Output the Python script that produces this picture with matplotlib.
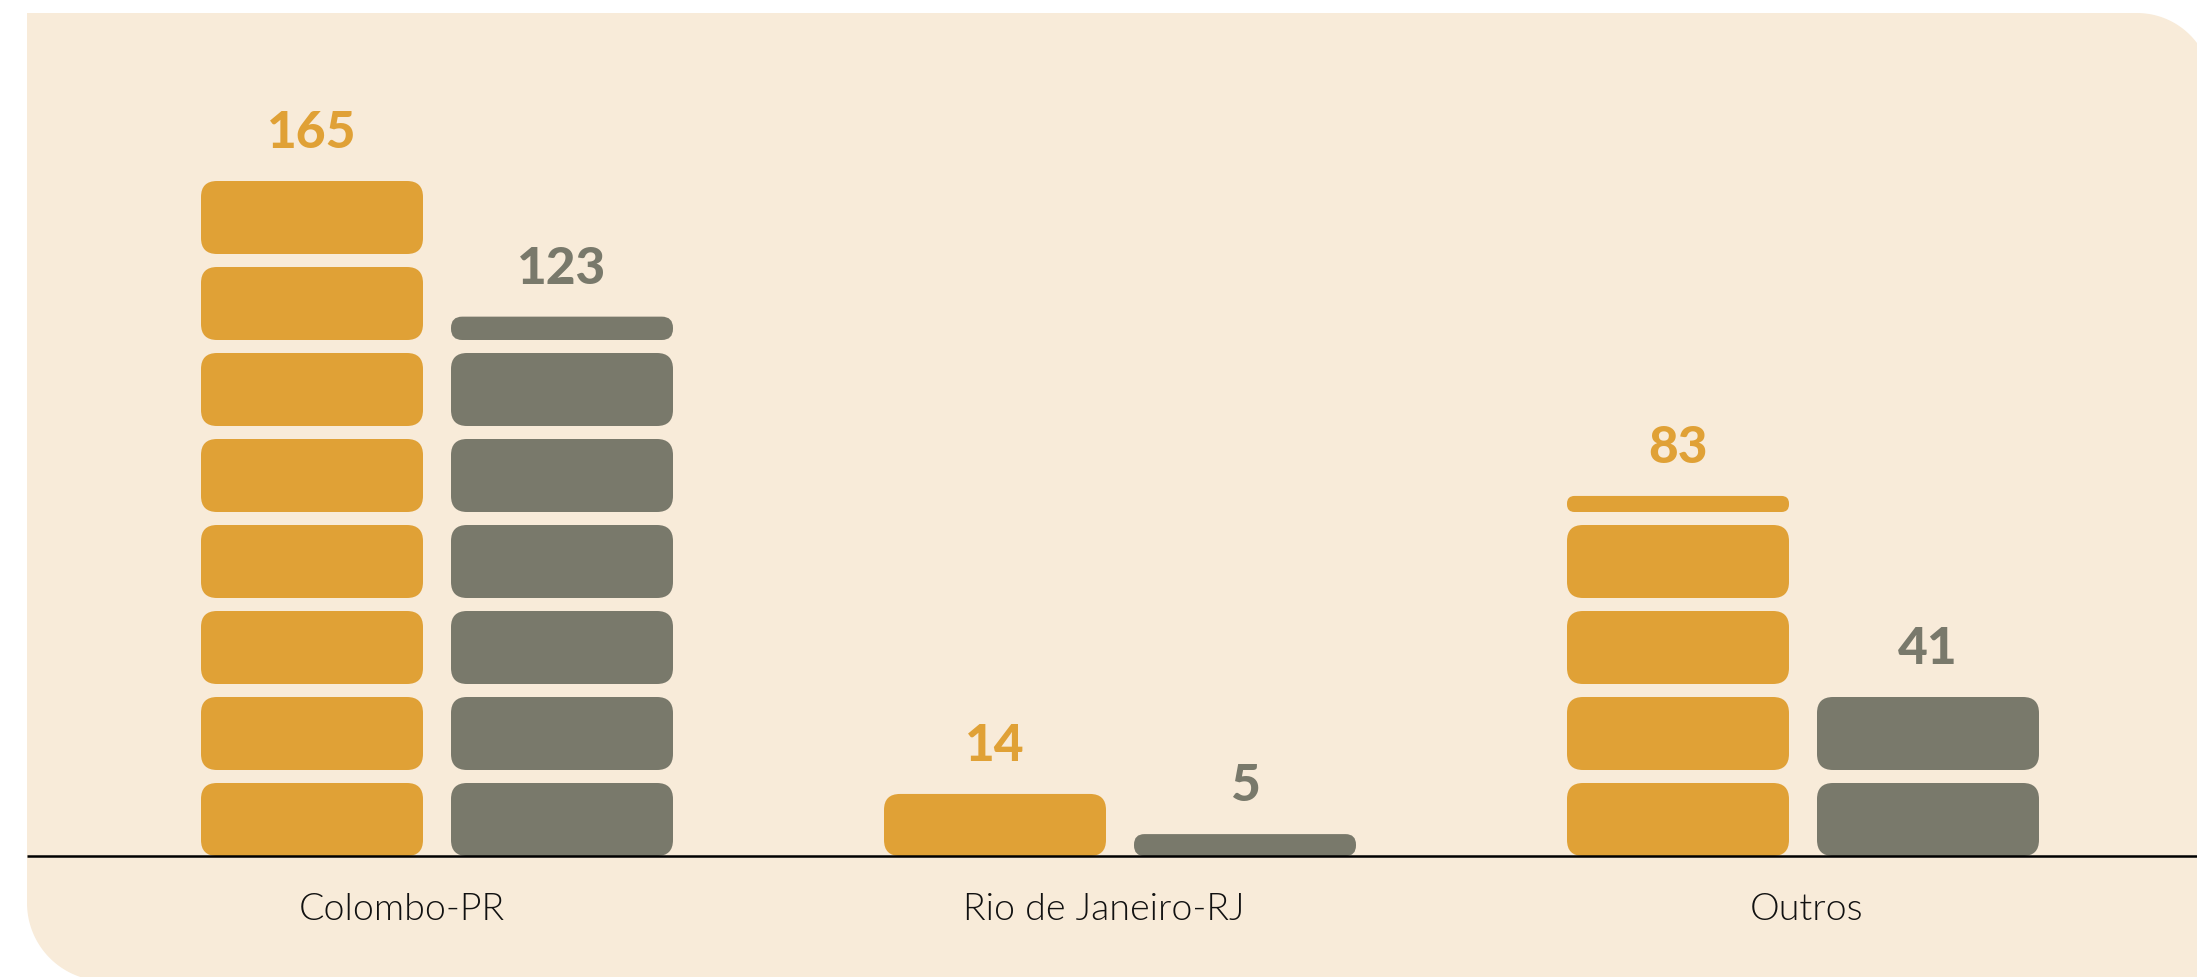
import numpy as np
import matplotlib
matplotlib.use("Agg")
import matplotlib.pyplot as plt
from matplotlib.patches import FancyBboxPatch, PathPatch
from matplotlib.path import Path
from matplotlib.transforms import IdentityTransform

# --- data ---
categorias = ["Colombo-PR", "Rio de Janeiro-RJ", "Outros"]
valores_a = [165, 14, 83]
valores_b = [123, 5, 41]
# altura de cada pilha, em blocos
blocos_a = [8.0, 0.85, 4.22]
blocos_b = [6.32, 0.30, 2.0]

COR_A = "#E0A136"
COR_B = "#79796B"
FUNDO = "#F8EBD9"

W, H, DPI = 2197, 977, 100
PX_CAT = 683.0      # px between category centers
PX_BLOCO = 86.0     # px per block pitch
X0_PX = 437.0       # px of first category center
BASE_PX = 121.0     # baseline height from bottom, px
PX_ROTULO = 702.0   # px between category labels
X0_ROTULO = 402.0   # px of first category label

fig = plt.figure(figsize=(W / DPI, H / DPI), dpi=DPI)
fig.patch.set_facecolor("white")


def painel(x0, yb, x1, yt, r_tr, r_bl, n=40):
    """rect with rounded top-right and bottom-left corners (pixels)"""
    pts = [(x0, yt)]
    a = np.linspace(np.pi / 2, 0, n)
    pts += list(zip(x1 - r_tr + r_tr * np.cos(a), yt - r_tr + r_tr * np.sin(a)))
    pts += [(x1, yb)]
    a = np.linspace(-np.pi / 2, -np.pi, n)
    pts += list(zip(x0 + r_bl + r_bl * np.cos(a), yb + r_bl + r_bl * np.sin(a)))
    pts += [(x0, yt)]
    codes = [Path.MOVETO] + [Path.LINETO] * (len(pts) - 2) + [Path.CLOSEPOLY]
    return Path(pts, codes)


fig.patches.append(PathPatch(painel(27, -4, 2212, 964, 75, 78), facecolor=FUNDO,
                             edgecolor="none", transform=IdentityTransform(),
                             figure=fig, zorder=-5))

ax = fig.add_axes([0, 0, 1, 1])
ax.set_zorder(1)
ax.set_facecolor("none")
ax.set_axis_off()
ax.set_xlim(-X0_PX / PX_CAT, (W - X0_PX) / PX_CAT)
ax.set_ylim(-BASE_PX / PX_BLOCO, (H - BASE_PX) / PX_BLOCO)

aspect = PX_CAT / PX_BLOCO
larg = 222 / PX_CAT
desl = 125 / PX_CAT
h_bloco = 73 / PX_BLOCO
passo = 1.0
raio_px = 16


def pilha(xc, blocos, cor):
    y = 0.0
    restante = blocos
    while restante > 1e-6:
        frac = min(1.0, restante)
        h = frac * h_bloco if frac < 1 else h_bloco
        h_px = h * PX_BLOCO
        r_px = min(raio_px, h_px / 2 - 0.5)
        r = r_px / PX_CAT
        ax.add_patch(FancyBboxPatch((xc - larg / 2, y), larg, h,
                                    boxstyle=f"round,pad=0,rounding_size={r}",
                                    mutation_aspect=aspect, facecolor=cor,
                                    edgecolor="none", zorder=2))
        y += h + (passo - h_bloco)
        restante -= frac
    return y - (passo - h_bloco)


x = np.arange(len(categorias))
for i in x:
    for blocos, val, cor, sinal in [(blocos_a[i], valores_a[i], COR_A, -1),
                                    (blocos_b[i], valores_b[i], COR_B, 1)]:
        xc = i + sinal * desl
        topo = pilha(xc, blocos, cor)
        ax.text(xc, topo + 33 / PX_BLOCO, str(val), ha="center", va="baseline",
                fontsize=37, fontweight="black", family="Lato", color=cor)
    x_rot = (X0_ROTULO + i * PX_ROTULO - X0_PX) / PX_CAT
    ax.text(x_rot, -64 / PX_BLOCO, categorias[i], ha="center", va="baseline",
            fontsize=27, fontweight=300, family="Lato", color="#111111")

ax.plot([(27 - X0_PX) / PX_CAT, (W - X0_PX) / PX_CAT], [0, 0], color="black",
        linewidth=1.8, solid_capstyle="butt", zorder=3)

fig.savefig("out.png", dpi=DPI)
